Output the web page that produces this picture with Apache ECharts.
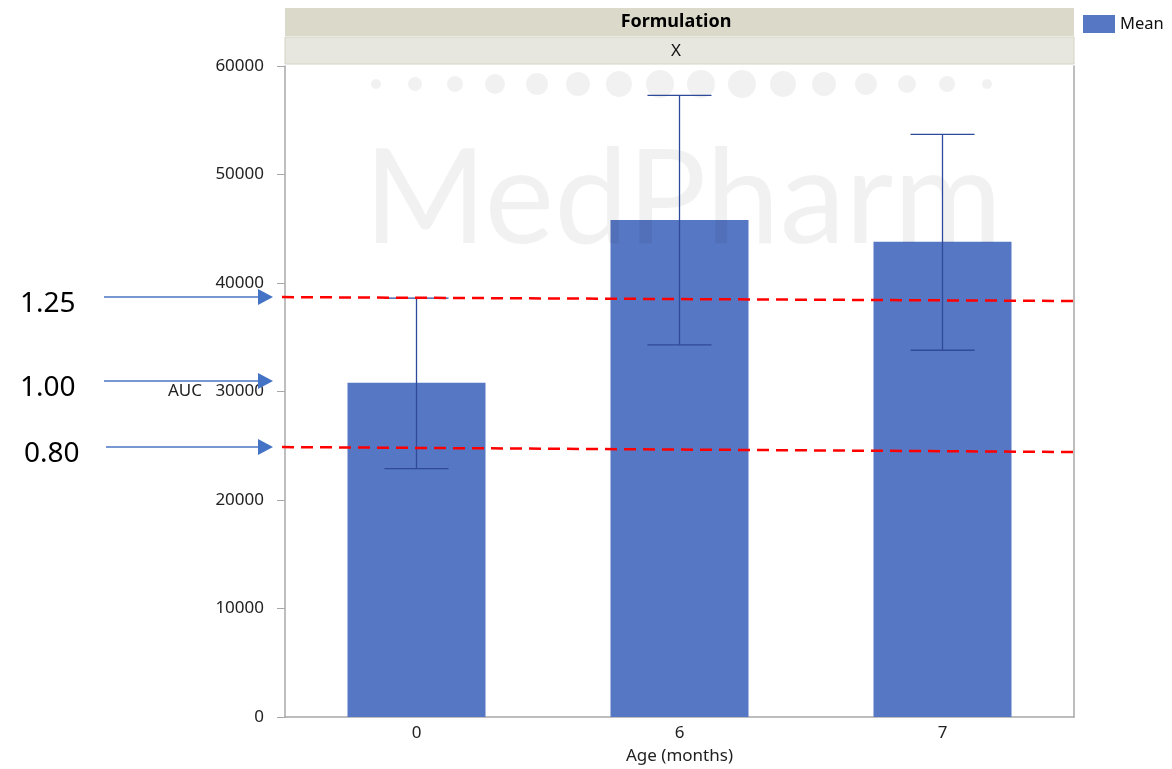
<!DOCTYPE html>
<html>
<head>
<meta charset="utf-8">
<script src="https://cdn.jsdelivr.net/npm/echarts@6/dist/echarts.min.js"></script>
<style>
  html, body { margin: 0; padding: 0; background: #fff; }
  #main { width: 1172px; height: 769px; }
</style>
</head>
<body>
<div id="main"></div>
<script>
// data
var ages = ['0', '6', '7'];
var meanAuc = [30800, 45800, 43800];
var errLow = [22900, 34300, 33800];
var errHigh = [38600, 57300, 53700];
var yTicks = [0, 10000, 20000, 30000, 40000, 50000, 60000];

// annotation arrows (ratio label -> AUC level) and the dashed limit lines (left, right value)
var ratioLabels = ['1.25', '1.00', '0.80'];
var ratioLevels = [38700, 30970, 24880];
var limitUpper = [38700, 38340];
var limitLower = [24880, 24420];

var barColor = '#5677c4';
var font = '"Noto Sans", "Open Sans", sans-serif';

var chart = echarts.init(document.getElementById('main'));

chart.setOption({
  animation: false,
  textStyle: { fontFamily: font },
  grid: { left: 285, right: 98, top: 66, bottom: 52, containLabel: false, outerBoundsMode: 'none' },
  xAxis: {
    type: 'category',
    data: ages,
    name: 'Age (months)',
    nameLocation: 'middle',
    nameGap: 31,
    nameTextStyle: { fontSize: 17, color: '#222' },
    axisLine: { lineStyle: { color: '#a8a8a8', width: 1.5 } },
    axisTick: { show: false },
    axisLabel: { fontSize: 17, color: '#222', margin: 8 }
  },
  yAxis: [{
    type: 'value',
    min: yTicks[0],
    max: yTicks[yTicks.length - 1],
    interval: 10000,
    name: 'AUC',
    nameLocation: 'middle',
    nameRotate: 0,
    nameGap: 83,
    nameTextStyle: { fontSize: 17, color: '#222' },
    axisLine: { show: true, lineStyle: { color: '#a8a8a8', width: 1.5 } },
    axisTick: { show: true, length: 8, lineStyle: { color: '#a8a8a8' } },
    axisLabel: { fontSize: 17, color: '#222', margin: 21, formatter: function (v) { return String(v); } },
    splitLine: { show: false }
  }, {
    type: 'value',
    position: 'right',
    min: 0,
    max: 60000,
    axisLine: { show: true, lineStyle: { color: '#a8a8a8', width: 1.5 } },
    axisTick: { show: false },
    axisLabel: { show: false },
    splitLine: { show: false }
  }],
  series: [{
    name: 'Mean',
    type: 'bar',
    data: meanAuc,
    barWidth: 138,
    itemStyle: { color: barColor },
    z: 2
  }, {
    type: 'custom',
    z: 5,
    renderItem: function (params, api) {
      var x = api.value(0);
      var lo = api.coord([x, api.value(1)]);
      var hi = api.coord([x, api.value(2)]);
      var half = 32;
      var style = { stroke: '#2f4a9a', lineWidth: 1.3 };
      return {
        type: 'group',
        children: [
          { type: 'line', shape: { x1: lo[0], y1: lo[1], x2: hi[0], y2: hi[1] }, style: style },
          { type: 'line', shape: { x1: lo[0] - half, y1: lo[1], x2: lo[0] + half, y2: lo[1] }, style: style },
          { type: 'line', shape: { x1: hi[0] - half, y1: hi[1], x2: hi[0] + half, y2: hi[1] }, style: style }
        ]
      };
    },
    data: ages.map(function (a, i) { return [i, errLow[i], errHigh[i]]; })
  }]
});

// overlays: header strips, legend, watermark, arrows and dashed limits
function yPx(v) { return chart.convertToPixel({ yAxisIndex: 0 }, v); }

var g = [];
// header
g.push({ type: 'rect', shape: { x: 285, y: 8, width: 789, height: 28 }, style: { fill: '#dbd9ca' }, z: 10 });
g.push({ type: 'text', x: 676, y: 22, style: { text: 'Formulation', font: 'bold 18px ' + font, fill: '#000', align: 'center', verticalAlign: 'middle' }, z: 11 });
g.push({ type: 'rect', shape: { x: 285, y: 37, width: 789, height: 27 }, style: { fill: '#e7e7df', stroke: '#d6d4c4', lineWidth: 1 }, z: 10 });
g.push({ type: 'text', x: 676, y: 51, style: { text: 'X', font: '17px ' + font, fill: '#111', align: 'center', verticalAlign: 'middle' }, z: 11 });
// legend
g.push({ type: 'rect', shape: { x: 1083, y: 15, width: 32, height: 18 }, style: { fill: barColor }, z: 10 });
g.push({ type: 'text', x: 1120, y: 24, style: { text: 'Mean', font: '16.5px ' + font, fill: '#111', verticalAlign: 'middle' }, z: 11 });

// watermark
var dotX = [376, 415, 455, 495, 537, 578, 619, 660, 701, 742, 783, 824, 866, 907, 947, 987];
var dotR = [5, 7, 8, 10, 11, 12, 13, 14, 14, 14, 13, 12, 11, 9, 8, 5];
dotX.forEach(function (x, i) {
  g.push({ type: 'circle', shape: { cx: x, cy: 84, r: dotR[i] }, style: { fill: 'rgba(0,0,0,0.055)' }, z: 3, silent: true });
});
g.push({ type: 'text', x: 683, y: 200, style: { text: 'MedPharm', font: '400 132px Lato, sans-serif', fill: 'rgba(0,0,0,0.055)', align: 'center', verticalAlign: 'middle' }, z: 3, silent: true });

// dashed limit lines
[limitUpper, limitLower].forEach(function (l) {
  g.push({ type: 'line', shape: { x1: 282, y1: yPx(l[0]), x2: 1076, y2: yPx(l[1]) },
    style: { stroke: '#ff0000', lineWidth: 2.5, lineDash: [12, 7] }, z: 6 });
});

// arrows with ratio labels
ratioLevels.forEach(function (v, i) {
  var y = yPx(v);
  var x0 = i === 2 ? 106 : 104;
  g.push({ type: 'line', shape: { x1: x0, y1: y, x2: 260, y2: y }, style: { stroke: '#4a74c4', lineWidth: 1.5 }, z: 6 });
  g.push({ type: 'polygon', shape: { points: [[258, y - 8], [273, y], [258, y + 8]] }, style: { fill: '#4472c4' }, z: 6 });
  g.push({ type: 'text', x: i === 2 ? 24 : 20, y: y + 7, style: { text: ratioLabels[i], font: '28px ' + font, fill: '#000', verticalAlign: 'middle' }, z: 6 });
});

chart.setOption({ graphic: g });
</script>
</body>
</html>
